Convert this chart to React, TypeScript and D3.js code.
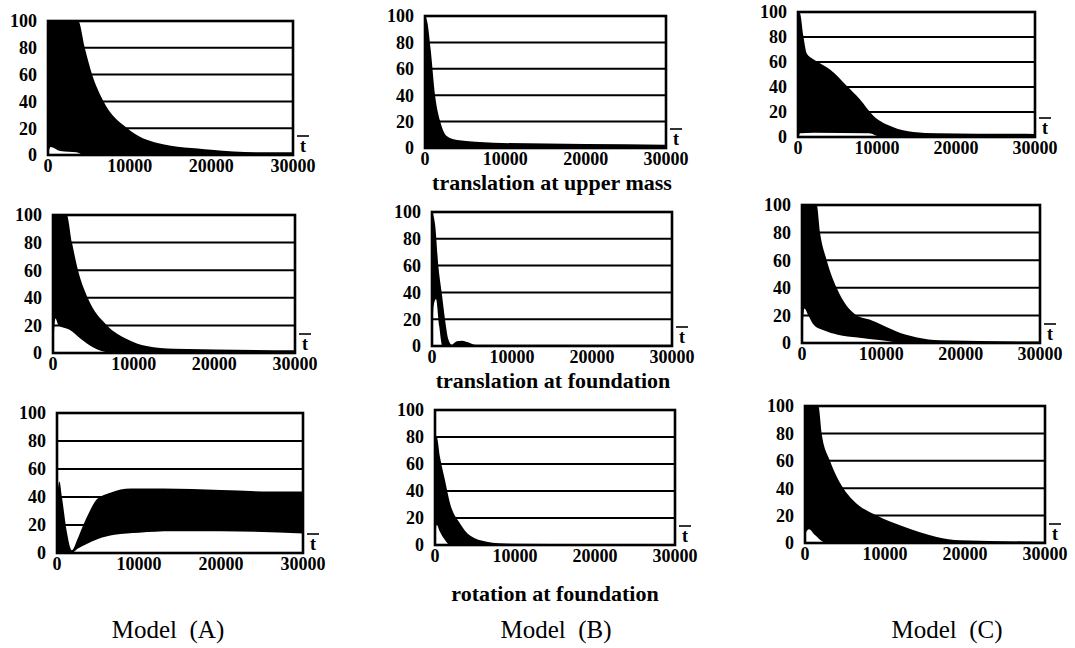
import React from "react";
import * as d3 from "d3";

// ---------- data (percent amplitude envelopes vs. nondimensional time) ----------
const yTicks = [0, 20, 40, 60, 80, 100];
const xTicks = [0, 10000, 20000, 30000];
const xTickLabels = ["0", "10000", "20000", "30000"];
const rowCaptions = ["translation at upper mass", "translation at foundation", "rotation at foundation"];
const modelLabels = ["Model  (A)", "Model  (B)", "Model  (C)"];

// Model A
const a1UT = [0, 3700, 4500, 5400, 6800, 9700, 13400, 20000, 27000, 30000];
const a1U = [100, 100, 80, 60, 40, 20, 9, 4, 2, 2];
const a1LT = [0, 300, 1500, 3500, 4200];
const a1L = [0, 6, 3, 2, 0];

const a2UT = [0, 1700, 2350, 3100, 4300, 6700, 9200, 11600, 15000, 30000];
const a2U = [100, 100, 80, 60, 40, 20, 10, 5, 3, 2];
const a2LT = [0, 300, 700, 2000, 3500, 5000, 7000, 30000];
const a2L = [0, 25, 20, 17, 10, 4, 0.5, 0];

const a3UT = [0, 300, 600, 1200, 1800, 2500, 3200, 4000, 4800, 6500, 9000, 13000, 20000, 26000, 30000];
const a3U = [40, 51, 40, 15, 2, 10, 20, 30, 38, 43, 46, 46, 45, 44, 44];
const a3LT = [0, 1800, 2500, 3500, 5000, 7000, 10000, 14000, 20000, 30000];
const a3L = [0, 0, 3, 6, 10, 13, 14.5, 15.5, 15.5, 14];

// Model B
const b1UT = [0, 300, 700, 1250, 1900, 2700, 4000, 8500, 20000, 30000];
const b1U = [100, 95, 75, 40, 20, 9, 6, 4, 3, 2.5];
const b1LT = [0, 30000];
const b1L = [0, 0];

const b2UT = [0, 400, 790, 1210, 1625, 2040, 2450, 3100, 3800, 4400, 5500, 30000];
const b2U = [100, 90, 60, 40, 20, 5, 1, 3.5, 4, 3, 1, 1];
const b2LT = [0, 200, 500, 900, 1300, 30000];
const b2L = [0, 30, 35, 15, 0, 0];

const b3UT = [0, 210, 625, 1250, 1875, 3125, 4375, 6460, 9375, 30000];
const b3U = [80, 80, 65, 48, 31, 16, 7, 2.5, 1, 0.5];
const b3LT = [0, 200, 600, 1200, 1900, 30000];
const b3L = [0, 15, 10, 4, 0, 0];

// Model C
const c1UT = [0, 250, 670, 1100, 2000, 2780, 4050, 6160, 7850, 9530, 12000, 14600, 17600, 30000];
const c1U = [100, 99, 81, 67, 62, 59, 54, 41, 30, 17, 8, 4, 3, 2.5];
const c1LT = [0, 300, 2000, 9000, 10500, 30000];
const c1L = [0, 3, 3.5, 3, 0, 0];

const c2UT = [0, 1850, 2270, 3110, 4370, 6890, 8500, 10500, 12500, 14500, 17400, 30000];
const c2U = [100, 100, 80, 60, 40, 20, 17, 12, 7, 4, 2, 1];
const c2LT = [0, 300, 800, 1500, 2800, 4500, 7000, 10000, 13000, 30000];
const c2L = [0, 25, 20, 13, 9, 6, 4, 2, 0, 0];

const c3UT = [0, 1670, 2080, 3125, 4790, 6040, 8960, 12290, 16460, 19400, 30000];
const c3U = [100, 100, 80, 60, 40, 31, 20, 12, 4.4, 2, 1];
const c3LT = [0, 150, 500, 1200, 2700, 30000];
const c3L = [0, 8, 10, 6, 0, 0];

// ---------- layout ----------
type Box = { l: number; t: number; r: number; b: number };
const panels: { id: string; box: Box; ut: number[]; u: number[]; lt: number[]; l: number[] }[] = [
  { id: "a1", box: { l: 48, t: 21, r: 293, b: 155 }, ut: a1UT, u: a1U, lt: a1LT, l: a1L },
  { id: "a2", box: { l: 53, t: 215, r: 295, b: 353 }, ut: a2UT, u: a2U, lt: a2LT, l: a2L },
  { id: "a3", box: { l: 57, t: 413, r: 303, b: 553 }, ut: a3UT, u: a3U, lt: a3LT, l: a3L },
  { id: "b1", box: { l: 425, t: 16, r: 666, b: 148 }, ut: b1UT, u: b1U, lt: b1LT, l: b1L },
  { id: "b2", box: { l: 432, t: 212, r: 672, b: 346 }, ut: b2UT, u: b2U, lt: b2LT, l: b2L },
  { id: "b3", box: { l: 435, t: 410, r: 675, b: 545 }, ut: b3UT, u: b3U, lt: b3LT, l: b3L },
  { id: "c1", box: { l: 798, t: 12, r: 1035, b: 137 }, ut: c1UT, u: c1U, lt: c1LT, l: c1L },
  { id: "c2", box: { l: 802, t: 205, r: 1040, b: 343 }, ut: c2UT, u: c2U, lt: c2LT, l: c2L },
  { id: "c3", box: { l: 805, t: 406, r: 1045, b: 543 }, ut: c3UT, u: c3U, lt: c3LT, l: c3L },
];

const captionPos = [
  { x: 552, y: 190 },
  { x: 553, y: 388 },
  { x: 555, y: 601 },
];
const modelPos = [
  { x: 168, y: 638 },
  { x: 556, y: 638 },
  { x: 947, y: 638 },
];

const tickFont = "'Liberation Serif', 'Times New Roman', serif";

function Panel({ p }: { p: (typeof panels)[number] }) {
  const { box } = p;
  const x = d3.scaleLinear().domain([0, 30000]).range([box.l, box.r]);
  const y = d3.scaleLinear().domain([0, 100]).range([box.b, box.t]);
  const area = d3
    .area<[number, number]>()
    .x((d) => x(d[0]))
    .y0(y(0))
    .y1((d) => y(d[1]))
    .curve(d3.curveMonotoneX);
  const upperPts = p.ut.map((t, i) => [t, p.u[i]] as [number, number]);
  const lowerPts = p.lt.map((t, i) => [t, p.l[i]] as [number, number]);
  const dPath = (area(upperPts) || "") + (area(lowerPts) || "");
  const clipId = "clip-" + p.id;
  return (
    <g>
      <defs>
        <clipPath id={clipId}>
          <rect x={box.l} y={box.t} width={box.r - box.l} height={box.b - box.t} />
        </clipPath>
      </defs>
      {yTicks
        .filter((v) => v > 0 && v < 100)
        .map((v) => (
          <line key={v} x1={box.l} x2={box.r} y1={y(v)} y2={y(v)} stroke="#000" strokeWidth={2} />
        ))}
      <path d={dPath} fill="#000" fillRule="evenodd" clipPath={`url(#${clipId})`} />
      <rect
        x={box.l}
        y={box.t}
        width={box.r - box.l}
        height={box.b - box.t}
        fill="none"
        stroke="#000"
        strokeWidth={2.6}
      />
      {yTicks.map((v) => (
        <text
          key={"y" + v}
          x={box.l - 11}
          y={y(v)}
          dy="0.36em"
          textAnchor="end"
          fontFamily={tickFont}
          fontWeight="bold"
          fontSize={18}
        >
          {v}
        </text>
      ))}
      {xTicks.map((v, i) => (
        <text
          key={"x" + v}
          x={x(v)}
          y={box.b + 17}
          textAnchor="middle"
          fontFamily={tickFont}
          fontWeight="bold"
          fontSize={18}
        >
          {xTickLabels[i]}
        </text>
      ))}
      <line x1={box.r + 4} x2={box.r + 16} y1={box.b - 19} y2={box.b - 19} stroke="#000" strokeWidth={1.6} />
      <text x={box.r + 10} y={box.b - 3} textAnchor="middle" fontFamily={tickFont} fontWeight="bold" fontSize={18}>
        t
      </text>
    </g>
  );
}

export default function App() {
  return (
    <svg
      width={1075}
      height={648}
      style={{ position: "absolute", left: 0, top: 0, background: "#fff" }}
    >
      <rect x={0} y={0} width={1075} height={648} fill="#fff" />
      {panels.map((p) => (
        <Panel key={p.id} p={p} />
      ))}
      {rowCaptions.map((c, i) => (
        <text
          key={c}
          x={captionPos[i].x}
          y={captionPos[i].y}
          textAnchor="middle"
          fontFamily={tickFont}
          fontWeight="bold"
          fontSize={22}
        >
          {c}
        </text>
      ))}
      {modelLabels.map((m, i) => (
        <text
          key={m}
          x={modelPos[i].x}
          y={modelPos[i].y}
          textAnchor="middle"
          fontFamily={tickFont}
          fontSize={25}
          style={{ whiteSpace: "pre" }}
        >
          {m}
        </text>
      ))}
    </svg>
  );
}
